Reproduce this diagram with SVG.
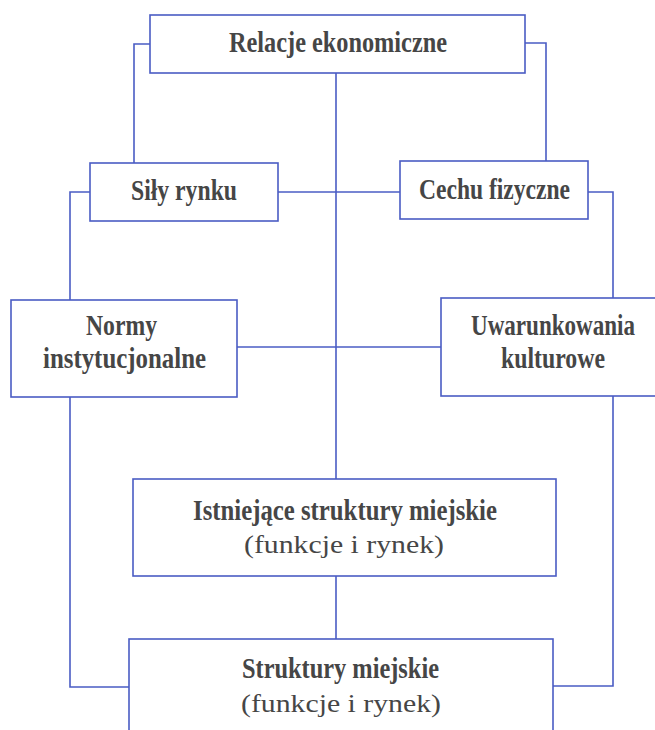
<svg xmlns="http://www.w3.org/2000/svg" width="655" height="730" viewBox="0 0 655 730">
<style>
.box{fill:#fff;stroke:#4a5cc4;stroke-width:1.6}
.ln{fill:none;stroke:#4a5cc4;stroke-width:1.6}
.b{font-family:"Liberation Serif",serif;font-weight:bold;font-size:30px;fill:#464646;text-anchor:middle}
.r{font-family:"Liberation Serif",serif;font-size:25px;fill:#464646;text-anchor:middle}
</style>
<rect width="655" height="730" fill="#fff"/>
<g id="connectors">
<polyline class="ln" points="150,44 134,44 134,163"/>
<polyline class="ln" points="525,43 546,43 546,161"/>
<line class="ln" x1="336" y1="73" x2="336" y2="479"/>
<line class="ln" x1="278" y1="192" x2="400" y2="192"/>
<polyline class="ln" points="90,192 70,192 70,687 129,687"/>
<polyline class="ln" points="588,192 613,192 613,686 553,686"/>
<line class="ln" x1="237" y1="347" x2="441" y2="347"/>
<line class="ln" x1="336" y1="576" x2="336" y2="639"/>
</g>
<g id="relacje">
<rect class="box" x="150" y="15" width="375" height="58"/>
<text class="b" x="338" y="52" textLength="218" lengthAdjust="spacingAndGlyphs">Relacje ekonomiczne</text>
</g>
<g id="sily">
<rect class="box" x="90" y="163" width="188" height="58"/>
<text class="b" x="184" y="200" textLength="106" lengthAdjust="spacingAndGlyphs">Siły rynku</text>
</g>
<g id="cechu">
<rect class="box" x="400" y="161" width="188" height="58"/>
<text class="b" x="494.5" y="199" textLength="151" lengthAdjust="spacingAndGlyphs">Cechu fizyczne</text>
</g>
<g id="normy">
<rect class="box" x="11" y="300" width="226" height="97"/>
<text class="b" x="121.5" y="335" textLength="71" lengthAdjust="spacingAndGlyphs">Normy</text>
<text class="b" x="124.5" y="368" textLength="163" lengthAdjust="spacingAndGlyphs">instytucjonalne</text>
</g>
<g id="uwarunkowania">
<rect class="box" x="441" y="298" width="215" height="98"/>
<text class="b" transform="translate(553,335) scale(0.7685,1)" x="0" y="0" textLength="213.4" lengthAdjust="spacingAndGlyphs">Uwarunkowania</text>
<text class="b" x="553" y="368" textLength="104" lengthAdjust="spacingAndGlyphs">kulturowe</text>
</g>
<g id="istniejace">
<rect class="box" x="133" y="479" width="423" height="97"/>
<text class="b" x="345" y="520" textLength="304" lengthAdjust="spacingAndGlyphs">Istniejące struktury miejskie</text>
<text class="r" x="344" y="553" textLength="200" lengthAdjust="spacingAndGlyphs">(funkcje i rynek)</text>
</g>
<g id="struktury">
<rect class="box" x="129" y="639" width="424" height="100"/>
<text class="b" x="340.5" y="678" textLength="197" lengthAdjust="spacingAndGlyphs">Struktury miejskie</text>
<text class="r" x="341" y="712" textLength="200" lengthAdjust="spacingAndGlyphs">(funkcje i rynek)</text>
</g>
</svg>
